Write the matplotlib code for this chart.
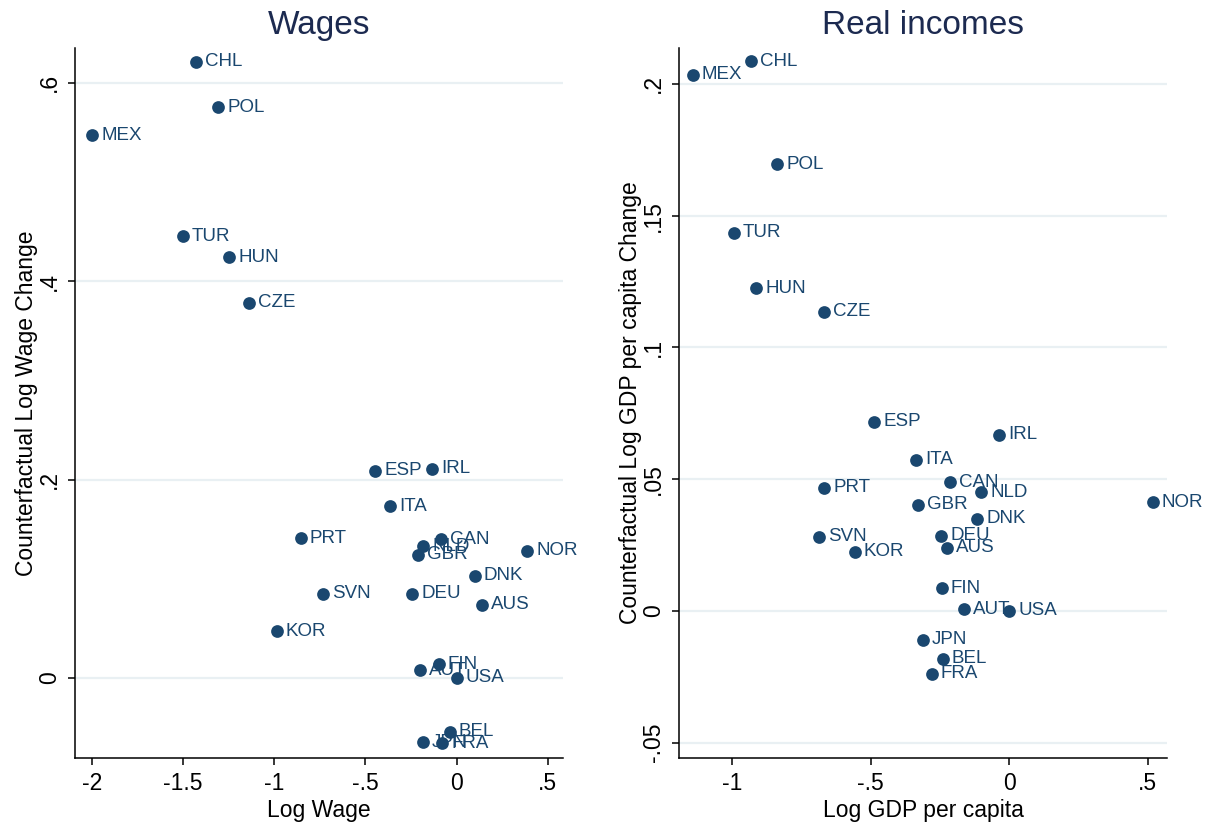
import numpy as np
import matplotlib.pyplot as plt

plt.rcParams['font.family'] = ['Liberation Sans', 'DejaVu Sans']

# countries shown in both panels
countries = ['CHL', 'POL', 'MEX', 'TUR', 'HUN', 'CZE', 'ESP', 'IRL', 'ITA', 'PRT',
             'CAN', 'NLD', 'GBR', 'NOR', 'DNK', 'SVN', 'DEU', 'AUS', 'KOR', 'FIN',
             'AUT', 'USA', 'BEL', 'JPN', 'FRA']

# wages panel
log_wage = [-1.432, -1.307, -1.999, -1.503, -1.247, -1.138, -0.447, -0.136, -0.365, -0.855,
            -0.087, -0.183, -0.214, 0.387, 0.098, -0.735, -0.243, 0.137, -0.986, -0.098,
            -0.202, 0.0, -0.038, -0.186, -0.079]
wage_change = [0.621, 0.575, 0.547, 0.445, 0.424, 0.378, 0.209, 0.211, 0.173, 0.141,
               0.140, 0.133, 0.124, 0.128, 0.103, 0.085, 0.085, 0.074, 0.047, 0.014,
               0.008, 0.0, -0.054, -0.065, -0.066]

# real incomes panel
log_gdp = [-0.931, -0.837, -1.141, -0.993, -0.913, -0.667, -0.486, -0.036, -0.337, -0.667,
           -0.214, -0.101, -0.330, 0.518, -0.116, -0.685, -0.246, -0.225, -0.558, -0.243,
           -0.163, 0.0, -0.239, -0.312, -0.279]
gdp_change = [0.2085, 0.1695, 0.2035, 0.1435, 0.1225, 0.1135, 0.0717, 0.0668, 0.0573, 0.0467,
              0.0489, 0.0451, 0.0402, 0.0413, 0.0349, 0.0281, 0.0285, 0.0239, 0.0224, 0.0087,
              0.0006, 0.0, -0.0182, -0.0110, -0.0239]

wage_xticks = [-2, -1.5, -1, -0.5, 0, 0.5]
wage_yticks = [0, 0.2, 0.4, 0.6]
gdp_xticks = [-1, -0.5, 0, 0.5]
gdp_yticks = [-0.05, 0, 0.05, 0.1, 0.15, 0.2]

mcol = '#1a476f'
tcol = '#1c2a50'
gcol = '#e9f0f3'


def stata_fmt(v):
    # stata style: drop the leading zero, keep integers plain
    s = ('%g' % v)
    if s.startswith('0.'):
        s = s[1:]
    elif s.startswith('-0.'):
        s = '-' + s[2:]
    return s


def panel(ax, x, y, title, xlabel, ylabel, xticks, yticks, xlim, ylim):
    ax.scatter(x, y, s=84, color=mcol, zorder=3, linewidths=0)
    for name, xi, yi in zip(countries, x, y):
        ax.annotate(name, (xi, yi), xytext=(6.5, 0), textcoords='offset points',
                    va='center', ha='left', fontsize=13.5, color=mcol, zorder=4)
    ax.set_xlim(*xlim)
    ax.set_ylim(*ylim)
    ax.set_xticks(xticks)
    ax.set_xticklabels([stata_fmt(v) for v in xticks])
    ax.set_yticks(yticks)
    ax.set_yticklabels([stata_fmt(v) for v in yticks], rotation=90, va='center')
    for v in yticks:
        ax.axhline(v, color=gcol, lw=1.6, zorder=1)
    ax.spines['top'].set_visible(False)
    ax.spines['right'].set_visible(False)
    ax.spines['left'].set_linewidth(1.1)
    ax.spines['bottom'].set_linewidth(1.1)
    ax.tick_params(direction='out', length=5, width=1.1, labelsize=16.5, pad=5)
    ax.set_title(title, fontsize=24, color=tcol, pad=10)
    ax.set_xlabel(xlabel, fontsize=16.5, labelpad=3)
    ax.set_ylabel(ylabel, fontsize=16.5, labelpad=0)


fig = plt.figure(figsize=(12.12, 8.27), dpi=100)
ax1 = fig.add_axes([0.0619, 0.0834, 0.4026, 0.8586])
ax2 = fig.add_axes([0.5602, 0.0834, 0.4027, 0.8586])

panel(ax1, log_wage, wage_change, 'Wages', 'Log Wage', 'Counterfactual Log Wage Change',
      wage_xticks, wage_yticks, (-2.093, 0.583), (-0.0807, 0.635))
panel(ax2, log_gdp, gdp_change, 'Real incomes', 'Log GDP per capita',
      'Counterfactual Log GDP per capita Change',
      gdp_xticks, gdp_yticks, (-1.191, 0.569), (-0.0558, 0.2136))

fig.savefig('out.png', dpi=100, facecolor='white')
